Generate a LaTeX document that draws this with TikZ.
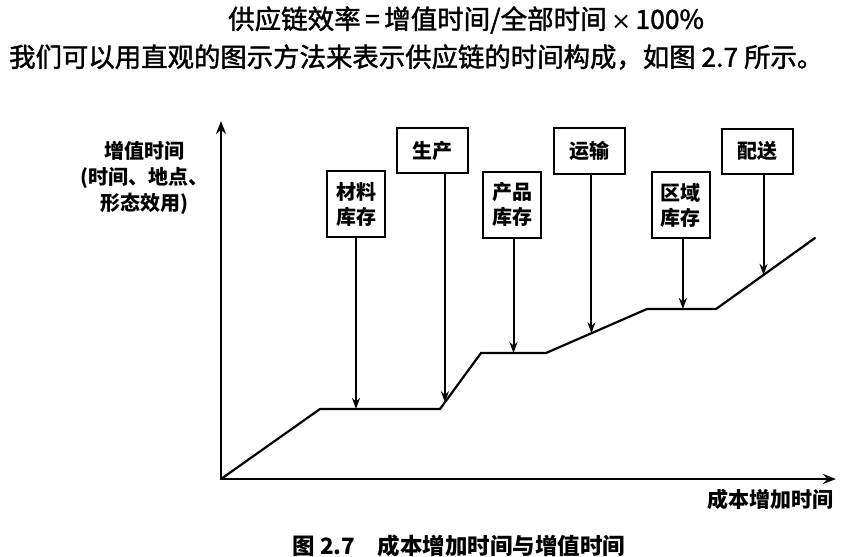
\documentclass[tikz,border=0pt]{standalone}
\usepackage{fontspec}
\setmainfont{Noto Sans CJK SC}
\newfontfamily\headfont[FakeBold=1.5]{Noto Sans CJK SC}
\usepackage{tikz}
\usetikzlibrary{arrows.meta,calc}

\tikzset{
  stagebox/.style={draw,line width=2pt,minimum width=71pt,minimum height=45pt,inner sep=0pt,font=\fontsize{20}{24}\selectfont\bfseries},
  stockbox/.style={draw,line width=2pt,minimum width=58pt,minimum height=66pt,inner sep=0pt,align=center,font=\fontsize{20}{25}\selectfont\bfseries},
  drop/.style={->,line width=2pt},
}

\begin{document}
\begin{tikzpicture}[x=1pt,y=-1pt,>={Stealth[length=11pt,width=8pt]},line cap=round]
\useasboundingbox (0,0) rectangle (842,556);
% header text
\node[anchor=west,inner sep=0pt,font=\fontsize{26.5}{28}\headfont] (formula) at (228,20) {供应链效率\,{=}\,增值时间/全部时间\,{\fontsize{20}{24}\selectfont×}\,100\%};
\node[anchor=west,inner sep=0pt,font=\fontsize{26.4}{28}\headfont] (intro) at (9,57) {我们可以用直观的图示方法来表示供应链的时间构成，如图 2.7 所示。};
% curve
\coordinate (O) at (221,479);
\coordinate (a) at (320,409);
\coordinate (b) at (440,409);
\coordinate (c) at (481,353);
\coordinate (d) at (546,353);
\coordinate (e) at (647,309);
\coordinate (f) at (716,309);
\coordinate (g) at (815,238);
\coordinate (ytop) at (221,121);
\coordinate (xend) at (836,479);
\draw[->,line width=2.2pt,>={Stealth[length=13pt,width=10pt]}] (O) -- (ytop);
\draw[->,line width=2.2pt,>={Stealth[length=13pt,width=10pt]}] (O) -- (xend);
\draw[line width=2.2pt,line join=miter] (O) -- (a) -- (b) -- (c) -- (d) -- (e) -- (f) -- (g);
% points hit by arrows
\coordinate (t1) at ($(a)!0.3!(b)$);
\coordinate (t2) at ($(b)!0.12!(c)$);
\coordinate (t3) at ($(c)!0.5!(d)$);
\coordinate (t4) at ($(d)!0.45!(e)$);
\coordinate (t5) at ($(e)!0.52!(f)$);
\coordinate (t6) at ($(f)!0.48!(g)$);
% boxes
\node[stockbox] (material) at (356,204) {材料\\库存};
\node[stagebox] (produce) at (432.5,150.5) {生产};
\node[stockbox] (product) at (512,204.5) {产品\\库存};
\node[stagebox] (transport) at (589,151) {运输};
\node[stockbox] (regional) at (680.5,205) {区域\\库存};
\node[stagebox] (deliver) at (757,151.5) {配送};
\draw[drop] (material.south -| t1) -- (t1);
\draw[drop] (produce.south -| t2) -- (t2);
\draw[drop] (product.south -| t3) -- (t3);
\draw[drop] (transport.south -| t4) -- (t4);
\draw[drop] (regional.south -| t5) -- (t5);
\draw[drop] (deliver.south -| t6) -- (t6);
% axis labels
\node[align=center,font=\fontsize{20}{26}\selectfont\bfseries] (ylabel) at (144,178) {增值时间\\(时间、地点、\\形态效用)};
\node[anchor=north east,inner sep=0pt,font=\fontsize{21}{24}\selectfont\bfseries] (xlabel) at (834,489) {成本增加时间};
\node[inner sep=0pt,font=\fontsize{22.5}{24}\selectfont\bfseries] (caption) at (459,546) {图 2.7\quad 成本增加时间与增值时间};
\end{tikzpicture}
\end{document}
